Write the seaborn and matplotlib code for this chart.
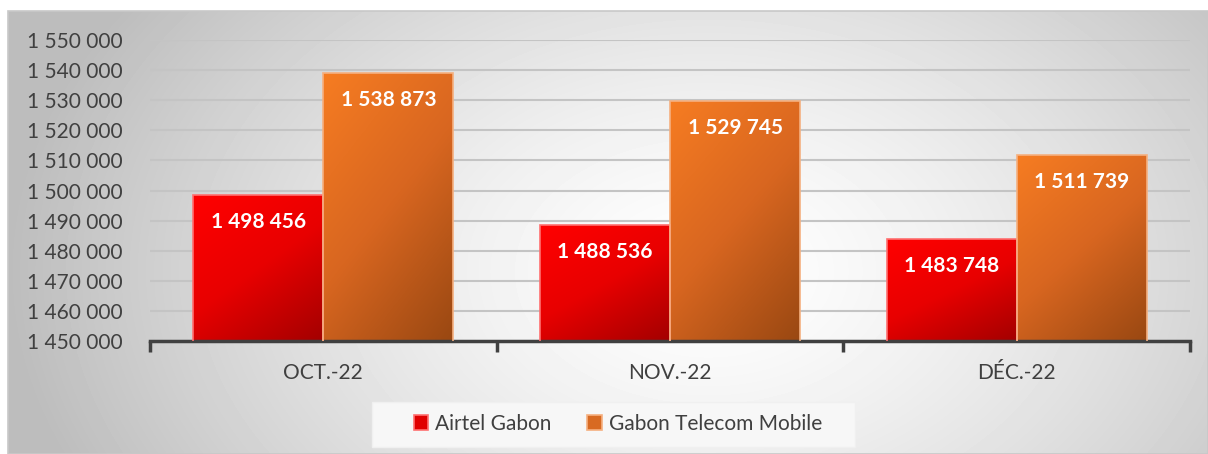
import numpy as np
import pandas as pd
import matplotlib
matplotlib.use("Agg")
import matplotlib.pyplot as plt
import seaborn as sns
from matplotlib.colors import LinearSegmentedColormap
from matplotlib.patches import Rectangle, Patch

months = ["OCT.-22", "NOV.-22", "DÉC.-22"]
operators = ["Airtel Gabon", "Gabon Telecom Mobile"]
airtel = [1498456, 1488536, 1483748]
gabon_telecom = [1538873, 1529745, 1511739]
yticks = list(range(1450000, 1550001, 10000))

df = pd.DataFrame({
    "month": months * 2,
    "operator": [operators[0]] * 3 + [operators[1]] * 3,
    "subs": airtel + gabon_telecom,
})

sns.set_style("white")
plt.rcParams["font.family"] = ["Lato", "DejaVu Sans"]

W, H = 1208, 454
fig = plt.figure(figsize=(W / 100, H / 100), dpi=100)
fig.patch.set_facecolor("white")

# radial grey background
bg = fig.add_axes([8 / W, 0, 1200 / W, 443 / H], zorder=-5)
yy, xx = np.mgrid[0:443, 0:1200]
r = np.sqrt(((xx - 700) / 700.0) ** 2 + ((yy - 260) / 480.0) ** 2)
shade = np.clip(1.0 - 0.26 * r ** 1.4, 0.74, 1.0)
bg.imshow(shade, cmap="gray", vmin=0, vmax=1, aspect="auto", interpolation="bilinear")
bg.set_axis_off()
fig.patches.append(Rectangle((8 / W, 0), 1200 / W, 443 / H, transform=fig.transFigure,
                             fill=False, edgecolor="#c8c8c8", lw=1.2))

# legend box
fig.patches.append(Rectangle((372 / W, 1 - 447 / H), 483 / W, 45 / H, transform=fig.transFigure,
                             facecolor="#f7f7f7", edgecolor="#f0f0f0", lw=1, zorder=1))

ax = fig.add_axes([150 / W, 1 - 341 / H, 1040 / W, 301 / H])
ax.set_facecolor("none")

colors = {"Airtel Gabon": "#e00000", "Gabon Telecom Mobile": "#d86a22"}
edges = {"Airtel Gabon": "#ff7070", "Gabon Telecom Mobile": "#f5b080"}
grads = {
    "Airtel Gabon": LinearSegmentedColormap.from_list("r", ["#ff0000", "#e80000", "#a40000"]),
    "Gabon Telecom Mobile": LinearSegmentedColormap.from_list("o", ["#f67c22", "#d86620", "#9a4812"]),
}

sns.barplot(data=df, x="month", y="subs", hue="operator", order=months, hue_order=operators,
            palette=colors, width=0.75, gap=0, ax=ax, legend=False, zorder=2)

gx, gy = np.meshgrid(np.linspace(0, 1, 60), np.linspace(0, 1, 60))
diag = (gx * 0.5 + gy * 0.8) / 1.3

for cont, op in zip(ax.containers, operators):
    for bar in cont:
        bar.set_edgecolor(edges[op])
        bar.set_linewidth(1.2)
        x0, w = bar.get_x(), bar.get_width()
        top = bar.get_y() + bar.get_height()
        im = ax.imshow(diag, cmap=grads[op], vmin=0, vmax=1, aspect="auto",
                       extent=[x0, x0 + w, 1450000, top], origin="upper",
                       interpolation="bilinear", zorder=2.5)
        im.set_clip_path(bar)
        ax.annotate(f"{int(top):,}".replace(",", " "), (x0 + w / 2, top),
                    xytext=(0, -27), textcoords="offset pixels", ha="center", va="center",
                    color="white", fontsize=15, fontweight="bold", zorder=4)
    for bar in cont:
        bar.set_zorder(3)
        bar.set_facecolor("none")

ax.set_xlim(-0.5, 2.5)
ax.set_ylim(1450000, 1550000)
ax.set_yticks(yticks)
ax.set_yticklabels([f"{v:,}".replace(",", " ") for v in yticks])
ax.yaxis.grid(True, color="#c4c4c4", lw=1.5)
ax.set_axisbelow(True)
ax.tick_params(axis="y", left=False, length=0, pad=20, labelsize=15, labelcolor="#404040")
ax.tick_params(axis="x", which="major", bottom=False, length=0, pad=16, labelsize=15,
               labelcolor="#404040")
ax.set_xticks([-0.5, 0.5, 1.5, 2.5], minor=True)
ax.tick_params(axis="x", which="minor", bottom=True, length=8, width=2.5, color="#404040",
               direction="out")
ax.set_xlabel("")
ax.set_ylabel("")
for s in ["top", "left", "right"]:
    ax.spines[s].set_visible(False)
ax.spines["bottom"].set_color("#404040")
ax.spines["bottom"].set_linewidth(2.5)

handles = [Patch(facecolor=colors[o], edgecolor=edges[o], lw=1.2) for o in operators]
leg = fig.legend(handles, operators, loc="center", bbox_to_anchor=(618 / W, 1 - 424 / H), ncol=2,
                 fontsize=15, frameon=False, handlelength=0.7, handleheight=0.7,
                 handletextpad=0.35, columnspacing=1.7)
for t in leg.get_texts():
    t.set_color("#404040")

fig.savefig("out.png", dpi=100)
